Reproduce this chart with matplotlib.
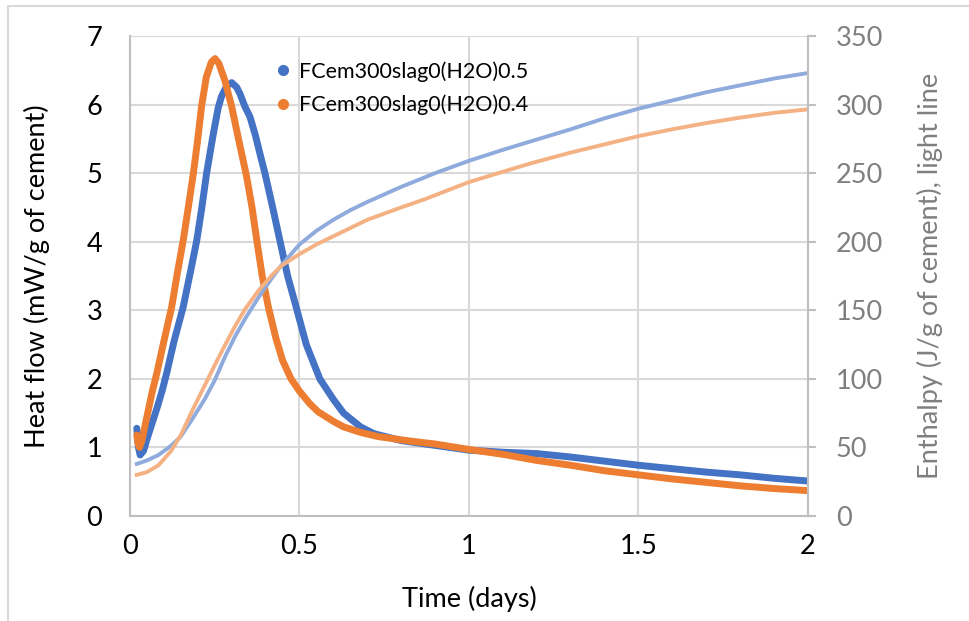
import matplotlib.pyplot as plt
from matplotlib.lines import Line2D
from matplotlib.patches import Rectangle

plt.rcParams['font.family'] = ['Lato', 'DejaVu Sans']

# Heat flow, w/c 0.5 (mW/g of cement)
t_hf_05 = [0.02, 0.025, 0.03, 0.04, 0.05, 0.065, 0.08, 0.095, 0.108, 0.13, 0.157, 0.18,
           0.197, 0.212, 0.226, 0.245, 0.26, 0.27, 0.285, 0.3, 0.315, 0.325, 0.339, 0.354,
           0.37, 0.385, 0.398, 0.42, 0.442, 0.465, 0.49, 0.52, 0.56, 0.6, 0.63, 0.68,
           0.72, 0.8, 0.9, 1.0, 1.1, 1.2, 1.3, 1.4, 1.5, 1.6, 1.7, 1.8, 1.9, 2.0]
hf_05 = [1.28, 1.0, 0.89, 0.95, 1.12, 1.35, 1.58, 1.83, 2.08, 2.55, 3.05, 3.6,
         4.02, 4.5, 5.0, 5.55, 5.95, 6.12, 6.27, 6.32, 6.25, 6.15, 5.97, 5.82,
         5.55, 5.25, 5.0, 4.52, 4.02, 3.5, 3.05, 2.5, 2.0, 1.7, 1.5, 1.3,
         1.2, 1.1, 1.03, 0.96, 0.93, 0.91, 0.86, 0.8, 0.74, 0.69, 0.64, 0.6, 0.55, 0.51]

# Heat flow, w/c 0.4 (mW/g of cement)
t_hf_04 = [0.02, 0.024, 0.028, 0.035, 0.05, 0.065, 0.079, 0.1, 0.123, 0.14, 0.157,
           0.172, 0.187, 0.2, 0.211, 0.225, 0.24, 0.251, 0.262, 0.28, 0.3, 0.32,
           0.344, 0.36, 0.374, 0.39, 0.408, 0.43, 0.45, 0.475, 0.5, 0.53, 0.555, 0.6,
           0.63, 0.68, 0.73, 0.83, 0.9, 1.0, 1.1, 1.2, 1.3, 1.4, 1.5, 1.6, 1.7, 1.8, 1.9, 2.0]
hf_04 = [1.18, 1.05, 1.0, 1.1, 1.45, 1.8, 2.08, 2.55, 3.05, 3.55, 4.02,
         4.5, 5.0, 5.5, 5.97, 6.4, 6.62, 6.67, 6.6, 6.35, 5.97, 5.5,
         4.95, 4.5, 4.02, 3.5, 3.05, 2.6, 2.27, 2.0, 1.82, 1.64, 1.52, 1.38,
         1.3, 1.22, 1.16, 1.09, 1.05, 0.97, 0.9, 0.81, 0.74, 0.66, 0.6, 0.54, 0.49, 0.44, 0.4, 0.37]

# Enthalpy (J/g of cement)
t_h_05 = [0.02, 0.05, 0.084, 0.12, 0.15, 0.182, 0.22, 0.25, 0.28, 0.31, 0.34, 0.378,
          0.42, 0.447, 0.5, 0.55, 0.6, 0.65, 0.7, 0.8, 0.9, 1.0, 1.1, 1.18, 1.3, 1.4,
          1.5, 1.6, 1.7, 1.8, 1.9, 2.0]
h_05 = [38, 40.5, 44.5, 51, 58, 70, 85, 99, 116, 131, 144, 159,
        174, 183, 198, 208, 216, 223, 229, 240, 250, 259, 267, 273, 282, 290,
        297, 303, 309, 314, 319, 323]

t_h_04 = [0.02, 0.05, 0.084, 0.12, 0.15, 0.182, 0.22, 0.25, 0.28, 0.31, 0.34, 0.378,
          0.42, 0.447, 0.5, 0.55, 0.6, 0.7, 0.8, 0.87, 1.0, 1.1, 1.18, 1.3, 1.4, 1.5,
          1.6, 1.7, 1.8, 1.9, 2.0]
h_04 = [30, 32, 37, 47, 59, 76, 95, 110, 124.5, 138.5, 151, 164,
        176, 182.5, 191, 198, 204, 216, 225, 231, 243.5, 251, 257, 265, 271, 277,
        282, 286.5, 290.5, 294, 296.5]

labels = ['FCem300slag0(H2O)0.5', 'FCem300slag0(H2O)0.4']

blue, orange = '#4472C4', '#ED7D31'
lblue, lorange = '#8FAADC', '#F4B183'
grid_c = '#D9D9D9'
grey = '#7F7F7F'
fs = 19.5

fig = plt.figure(figsize=(9.7, 6.21), dpi=100)
ax = fig.add_axes([130 / 970, 105 / 621, 678 / 970, 480 / 621])

ax.plot(t_hf_05, hf_05, color=blue, lw=5, solid_capstyle='round', solid_joinstyle='round')
ax.plot(t_hf_04, hf_04, color=orange, lw=5, solid_capstyle='round', solid_joinstyle='round')

ax.set_xlim(0, 2)
ax.set_ylim(0, 7)
ax.set_xticks([0, 0.5, 1, 1.5, 2])
ax.set_xticklabels(['0', '0.5', '1', '1.5', '2'])
ax.set_yticks(range(8))
ax.grid(True, color=grid_c, lw=1.5)
ax.set_axisbelow(True)
ax.tick_params(axis='both', length=0, labelsize=fs)
ax.tick_params(axis='y', pad=20)
ax.tick_params(axis='x', pad=13)
for s in ['top', 'right']:
    ax.spines[s].set_visible(False)
for s in ['left', 'bottom']:
    ax.spines[s].set_color('#BFBFBF')
    ax.spines[s].set_linewidth(1.5)
ax.set_xlabel('Time (days)', fontsize=fs, labelpad=19)
ax.set_ylabel('Heat flow (mW/g of cement)', fontsize=fs, labelpad=26)

ax2 = ax.twinx()
ax2.plot(t_h_05, h_05, color=lblue, lw=2.8)
ax2.plot(t_h_04, h_04, color=lorange, lw=2.8)
ax2.set_ylim(0, 350)
ax2.set_yticks(range(0, 351, 50))
ax2.tick_params(axis='y', length=6, width=1.5, color='#BFBFBF', labelsize=fs,
                labelcolor=grey, pad=14)
for s in ['top', 'left', 'bottom']:
    ax2.spines[s].set_visible(False)
ax2.spines['right'].set_color('#BFBFBF')
ax2.spines['right'].set_linewidth(1.5)
ax2.set_ylabel('Enthalpy (J/g of cement), light line', fontsize=fs, color=grey, labelpad=24)

handles = [Line2D([], [], color=c, marker='o', ls='none', markersize=7) for c in (blue, orange)]
ax2.legend(handles, labels, loc='upper left', bbox_to_anchor=(251 / 970, 1 - 42 / 621),
           bbox_transform=fig.transFigure, frameon=False, fontsize=15.5,
           handletextpad=0.15, labelspacing=0.6, handlelength=1.2)

# chart border
fig.patches.append(Rectangle((8 / 970, -0.1), 1.2, 1 - 6 / 621 + 0.1, transform=fig.transFigure,
                             fill=False, edgecolor=grid_c, lw=1.5))

fig.savefig('out.png', dpi=100)
